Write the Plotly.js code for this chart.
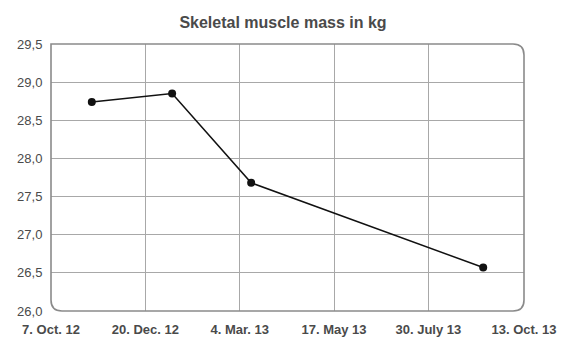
<!DOCTYPE html>
<html>
<head>
<meta charset="utf-8">
<script src="https://cdn.plot.ly/plotly-3.0.1.min.js"></script>
<style>html,body{margin:0;padding:0;background:#fff;}#chart{width:570px;height:360px;}</style>
</head>
<body>
<div id="chart"></div>
<script>
var measureDates = ['2012-11-08', '2013-01-10', '2013-03-13', '2013-09-11'];
var muscleMassKg = [28.74, 28.85, 27.68, 26.57];
var xTickDates = ['2012-10-07', '2012-12-20', '2013-03-04', '2013-05-17', '2013-07-30', '2013-10-13'];
var xTickLabels = ['7. Oct. 12', '20. Dec. 12', '4. Mar. 13', '17. May 13', '30. July 13', '13. Oct. 13'];
var yTickValues = [26.0, 26.5, 27.0, 27.5, 28.0, 28.5, 29.0, 29.5];

var W = 570, H = 360, L = 51, R = 46, T = 44, B = 49;
var pw = W - L - R, ph = H - T - B, rad = 11;
var rx = rad / pw, ry = rad / ph;
var borderPath = 'M 0,1 L ' + (1 - rx) + ',1 Q 1,1 1,' + (1 - ry) +
  ' L 1,' + ry + ' Q 1,0 ' + (1 - rx) + ',0 L ' + rx + ',0 Q 0,0 0,' + ry + ' Z';

var trace = {
  x: measureDates,
  y: muscleMassKg,
  type: 'scatter',
  mode: 'lines+markers',
  line: {color: '#111', width: 1.5},
  marker: {color: '#111', size: 8},
  hoverinfo: 'skip'
};

var layout = {
  width: W, height: H,
  margin: {l: L, r: R, t: T, b: B},
  paper_bgcolor: '#fff', plot_bgcolor: '#fff',
  separators: ',.',
  showlegend: false,
  title: {
    text: 'Skeletal muscle mass in kg',
    font: {family: 'Arial, Liberation Sans, sans-serif', size: 16, color: '#4a4a4a', weight: 'bold'},
    xref: 'container', x: 283 / 570, xanchor: 'center',
    yref: 'container', y: 1 - 22 / 360, yanchor: 'middle'
  },
  xaxis: {
    type: 'date',
    range: [xTickDates[0], xTickDates[xTickDates.length - 1]],
    tickmode: 'array', tickvals: xTickDates, ticktext: xTickLabels,
    showgrid: true, gridcolor: '#a8a8a8', gridwidth: 1,
    zeroline: false, showline: false,
    ticks: 'outside', ticklen: 6, tickcolor: 'rgba(0,0,0,0)',
    tickfont: {family: 'Arial, Liberation Sans, sans-serif', size: 13, color: '#4a4a4a', weight: 'bold'}
  },
  yaxis: {
    range: [26.0, 29.5],
    tickmode: 'array', tickvals: yTickValues, tickformat: '.1f',
    showgrid: true, gridcolor: '#a8a8a8', gridwidth: 1,
    zeroline: false, showline: false,
    ticks: 'outside', ticklen: 5, tickcolor: 'rgba(0,0,0,0)',
    tickfont: {family: 'Arial, Liberation Sans, sans-serif', size: 13, color: '#4a4a4a'}
  },
  shapes: [{
    type: 'path', xref: 'paper', yref: 'paper', path: borderPath,
    line: {color: '#8a8a8a', width: 1.6}, fillcolor: 'rgba(0,0,0,0)', layer: 'above'
  }]
};

Plotly.newPlot('chart', [trace], layout, {displayModeBar: false, staticPlot: true});
</script>
</body>
</html>
